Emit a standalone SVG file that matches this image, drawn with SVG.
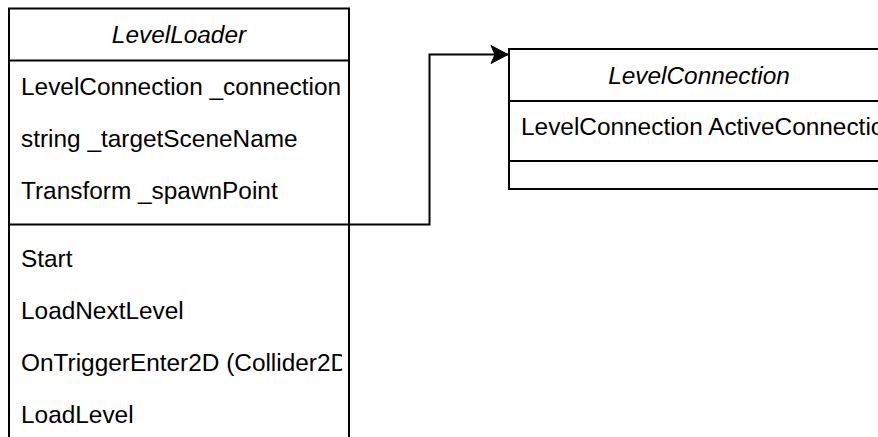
<svg xmlns="http://www.w3.org/2000/svg" width="878" height="437" viewBox="0 0 878 437">
  <style>
    .box { fill: #ffffff; stroke: #000000; stroke-width: 2; }
    .sep { stroke: #000000; stroke-width: 2; fill: none; }
    .title { font-family: "Liberation Sans", Arial, sans-serif; font-size: 24.4px; font-style: italic; fill: #000000; text-anchor: middle; }
    .member { font-family: "Liberation Sans", Arial, sans-serif; font-size: 24.4px; fill: #000000; }
    .edge { stroke: #000000; stroke-width: 2; fill: none; }
  </style>
  <defs>
    <clipPath id="clipLeft">
      <rect x="9" y="0" width="333" height="437"/>
    </clipPath>
    <clipPath id="clipRight">
      <rect x="509" y="0" width="369" height="437"/>
    </clipPath>
    <marker id="arrow" markerUnits="userSpaceOnUse" markerWidth="20" markerHeight="20" refX="18" refY="10" orient="auto" viewBox="0 0 20 20">
      <path d="M18,10 L1,1 L5,10 L1,19 Z" fill="#000000" stroke="#000000" stroke-width="1"/>
    </marker>
  </defs>
  <rect width="878" height="437" fill="#ffffff"/>

  <g id="LevelLoader">
    <rect class="box" x="9" y="8.5" width="340" height="445"/>
    <line class="sep" x1="9" y1="60.5" x2="349" y2="60.5"/>
    <line class="sep" x1="9" y1="224.5" x2="349" y2="224.5"/>
    <text class="title" x="179" y="43">LevelLoader</text>
    <g clip-path="url(#clipLeft)">
      <text class="member" x="21" y="94.5">LevelConnection _connection</text>
      <text class="member" x="21" y="146.5">string _targetSceneName</text>
      <text class="member" x="21" y="198.5">Transform _spawnPoint</text>
      <text class="member" x="21" y="266.5">Start</text>
      <text class="member" x="21" y="318.5">LoadNextLevel</text>
      <text class="member" x="21" y="370.5">OnTriggerEnter2D (Collider2D</text>
      <text class="member" x="21" y="422.5">LoadLevel</text>
    </g>
  </g>

  <g id="LevelConnection">
    <rect class="box" x="509" y="49" width="380" height="140"/>
    <line class="sep" x1="509" y1="101" x2="889" y2="101"/>
    <line class="sep" x1="509" y1="161" x2="889" y2="161"/>
    <text class="title" x="699" y="83.5">LevelConnection</text>
    <g clip-path="url(#clipRight)">
      <text class="member" x="521" y="135">LevelConnection ActiveConnection</text>
    </g>
  </g>

  <g id="connectors">
    <path class="edge" d="M349,224.5 L429.5,224.5 L429.5,54.5 L508,54.5" marker-end="url(#arrow)"/>
  </g>
</svg>
